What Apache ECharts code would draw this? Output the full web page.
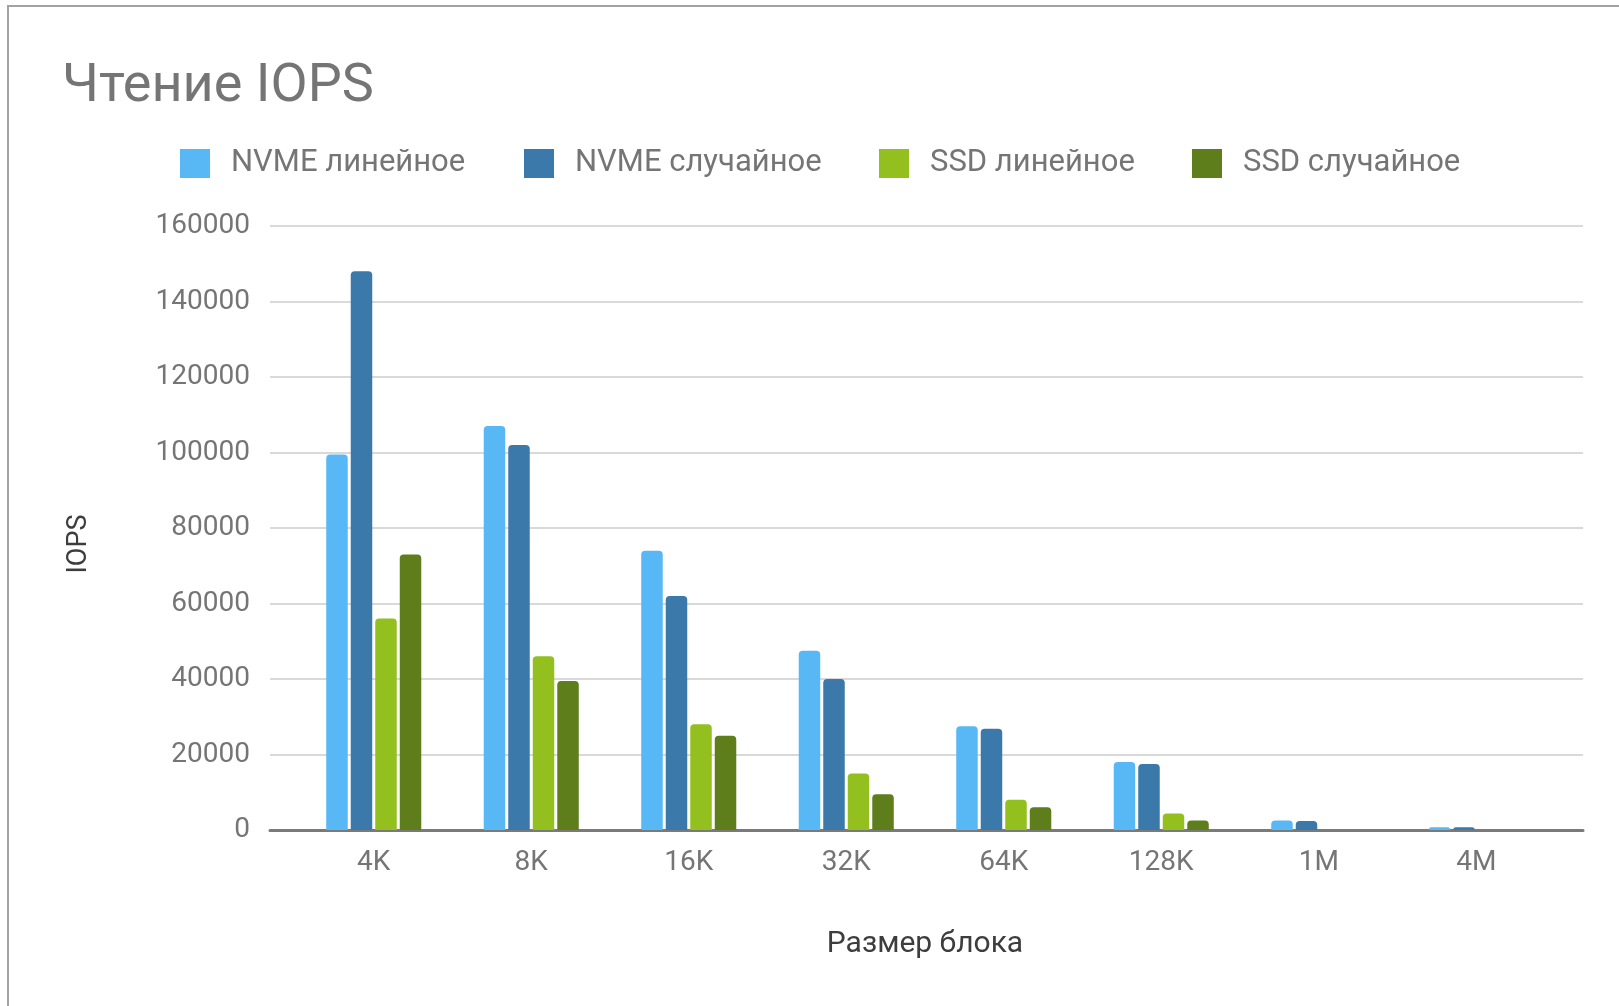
<!DOCTYPE html>
<html>
<head>
<meta charset="utf-8">
<script src="https://cdn.jsdelivr.net/npm/echarts@6/dist/echarts.min.js"></script>
<style>
  html, body { margin: 0; padding: 0; background: #ffffff; }
  #frame { position: absolute; left: 7px; top: 5px; width: 1700px; height: 1100px; border: 2px solid #a3a3a3; box-sizing: border-box; }
  #chart { position: absolute; left: 0; top: 0; width: 1619px; height: 1006px; }
</style>
</head>
<body>
<div id="frame"></div>
<div id="chart"></div>
<script>
const categories = ['4K', '8K', '16K', '32K', '64K', '128K', '1M', '4M'];
const seriesNames = ['NVME линейное', 'NVME случайное', 'SSD линейное', 'SSD случайное'];
const nvmeLinear = [99500, 107000, 74000, 47500, 27500, 18000, 2500, 700];
const nvmeRandom = [148000, 102000, 62000, 40000, 26800, 17500, 2400, 700];
const ssdLinear = [56000, 46000, 28000, 15000, 8000, 4400, 0, 0];
const ssdRandom = [73000, 39500, 25000, 9500, 6000, 2500, 0, 0];
const yTicks = [0, 20000, 40000, 60000, 80000, 100000, 120000, 140000, 160000];

const colors = ['#57b8f5', '#3b79ab', '#93c01f', '#5e7d1b'];
const seriesData = [nvmeLinear, nvmeRandom, ssdLinear, ssdRandom];
const legendLefts = [175, 519, 874, 1187];
const FONT = 'Roboto';
const yMin = yTicks[0], yMax = yTicks[yTicks.length - 1], yStep = yTicks[1] - yTicks[0];

const chart = echarts.init(document.getElementById('chart'), null, { renderer: 'canvas' });

const option = {
  backgroundColor: 'transparent',
  animation: false,
  textStyle: { fontFamily: FONT },
  title: {
    text: 'Чтение IOPS',
    left: 57,
    top: 55,
    textStyle: { fontFamily: FONT, fontSize: 54, fontWeight: 'normal', color: '#757575' }
  },
  legend: seriesNames.map((n, i) => ({
    data: [n],
    left: legendLefts[i],
    top: 143,
    icon: 'rect',
    itemWidth: 30,
    itemHeight: 29,
    selectedMode: false,
    textStyle: { fontFamily: FONT, fontSize: 31, color: '#757575', padding: [0, 0, 0, 16] }
  })),
  grid: [
    { left: 270, right: 36, top: 226, bottom: 176 },
    { left: 295, right: 64, top: 226, bottom: 176 }
  ],
  xAxis: [
    {
      type: 'value', gridIndex: 0, min: 0, max: 1,
      axisLine: { show: true, lineStyle: { color: '#7a7a7a', width: 3 } },
      axisTick: { show: false }, axisLabel: { show: false }, splitLine: { show: false }
    },
    {
      type: 'category', gridIndex: 1, data: categories,
      axisLine: { show: false }, axisTick: { show: false },
      axisLabel: { fontFamily: FONT, fontSize: 28, color: '#757575', margin: 19 },
      name: 'Размер блока', nameLocation: 'middle', nameGap: 99,
      nameTextStyle: { fontFamily: FONT, fontSize: 30, color: '#3d3d3d' }
    }
  ],
  yAxis: [
    {
      type: 'value', gridIndex: 0, min: yMin, max: yMax, interval: yStep,
      axisLine: { show: false }, axisTick: { show: false },
      axisLabel: { fontFamily: FONT, fontSize: 28, color: '#757575', margin: 20, formatter: v => String(v) },
      splitLine: { lineStyle: { color: '#d9d9d9', width: 2 } },
      name: 'IOPS', nameLocation: 'middle', nameGap: 177,
      nameTextStyle: { fontFamily: FONT, fontSize: 27, color: '#3d3d3d', padding: [0, 32, 0, 0] }
    },
    {
      type: 'value', gridIndex: 1, min: yMin, max: yMax, interval: yStep, show: false
    }
  ],
  series: seriesNames.map((n, i) => ({
    name: n,
    type: 'bar',
    xAxisIndex: 1,
    yAxisIndex: 1,
    data: seriesData[i],
    barWidth: 21.5,
    barGap: '14%',
    itemStyle: { color: colors[i], borderRadius: [4, 4, 0, 0] }
  }))
};
chart.setOption(option);
</script>
</body>
</html>
